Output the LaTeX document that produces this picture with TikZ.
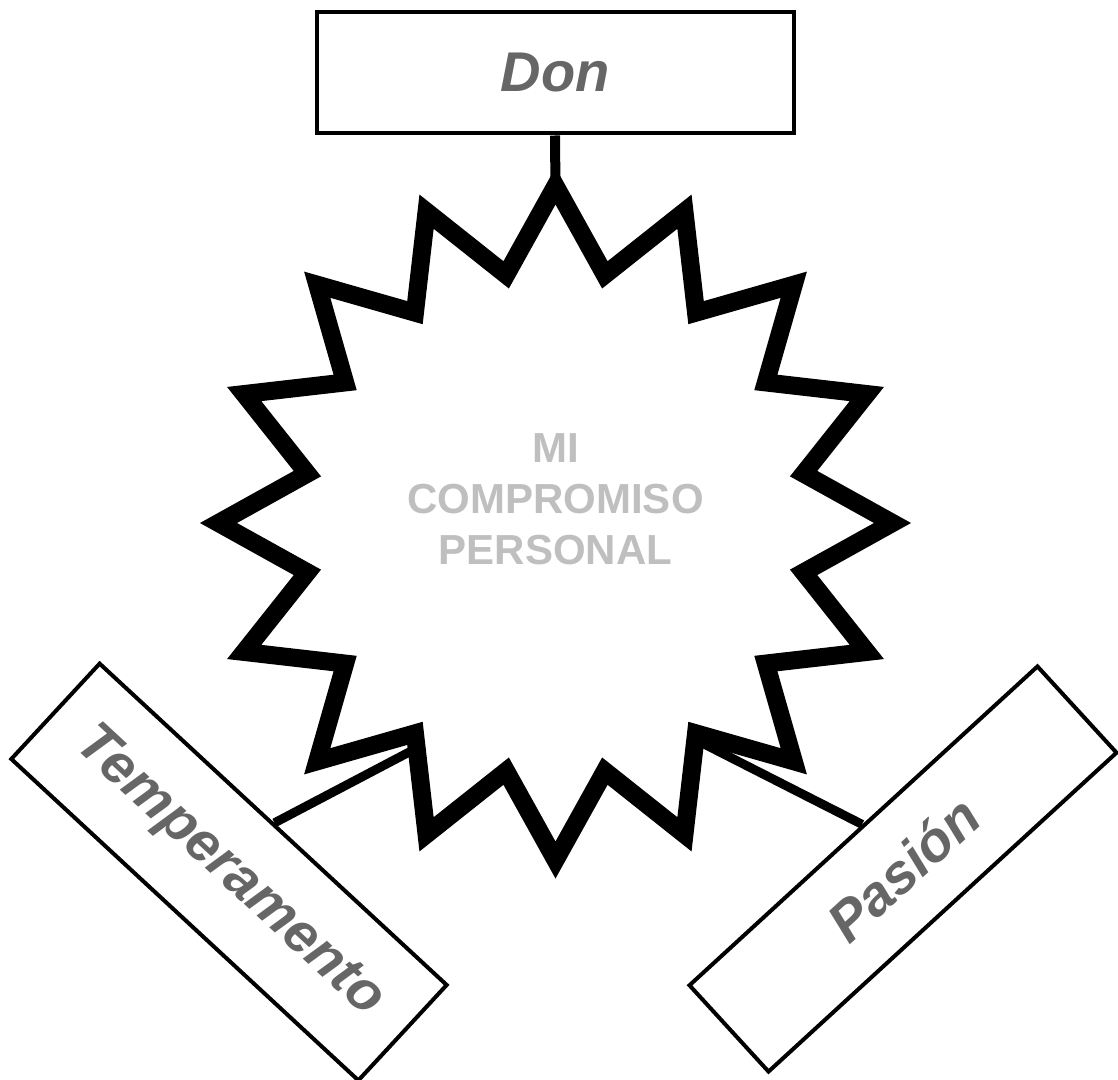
\documentclass[tikz,border=0pt]{standalone}
\usepackage{fontspec}
\setmainfont{Liberation Sans}
\definecolor{labelgray}{HTML}{666666}
\definecolor{centergray}{HTML}{BFBFBF}
\begin{document}
\begin{tikzpicture}[x=0.75pt,y=-0.75pt,
  box/.style={draw=black,line width=3pt,fill=white,inner sep=0pt,rectangle,
     font=\fontsize{42}{50}\selectfont\bfseries\itshape, text=labelgray},
  conn/.style={draw=black,line width=6.75pt},
  starline/.style={draw=black,line width=13.5pt,line join=miter,miter limit=10,fill=white},
  centertext/.style={align=center,inner sep=0pt,text=centergray,
     font=\fontsize{31.5}{38.25}\selectfont\bfseries}]
\useasboundingbox (0,0) rectangle (1118,1080);
% boxes
\node[box,minimum width=357.75pt,minimum height=90.75pt] (don) at (555,73) {Don};
\node[box,rotate=-42.8,minimum width=354.75pt,minimum height=97.5pt] (temp) at (229,872) {Temperamento};
\node[box,rotate=42.5,minimum width=354pt,minimum height=87.75pt] (pas) at (903,869) {Pasión};
% connector end points on the star
\coordinate (startop) at (555.5,190);
\coordinate (starleft) at (415,749);
\coordinate (starright) at (704,744);
\draw[conn,line width=7.5pt] (don.south) -- (startop);
\draw[conn] (temp.north) -- (starleft);
\draw[conn] (pas.north) -- (starright);
% star
\begin{scope}[shift={(555.5,523)}]
\draw[starline] (90:337)
  \foreach \i in {0,...,15} { -- ({90+22.5*\i+11.25}:253) -- ({90+22.5*(\i+1)}:337) } -- cycle;
\end{scope}
\node[centertext] (center) at (555.5,499) {MI\\COMPROMISO\\PERSONAL};
\end{tikzpicture}
\end{document}
